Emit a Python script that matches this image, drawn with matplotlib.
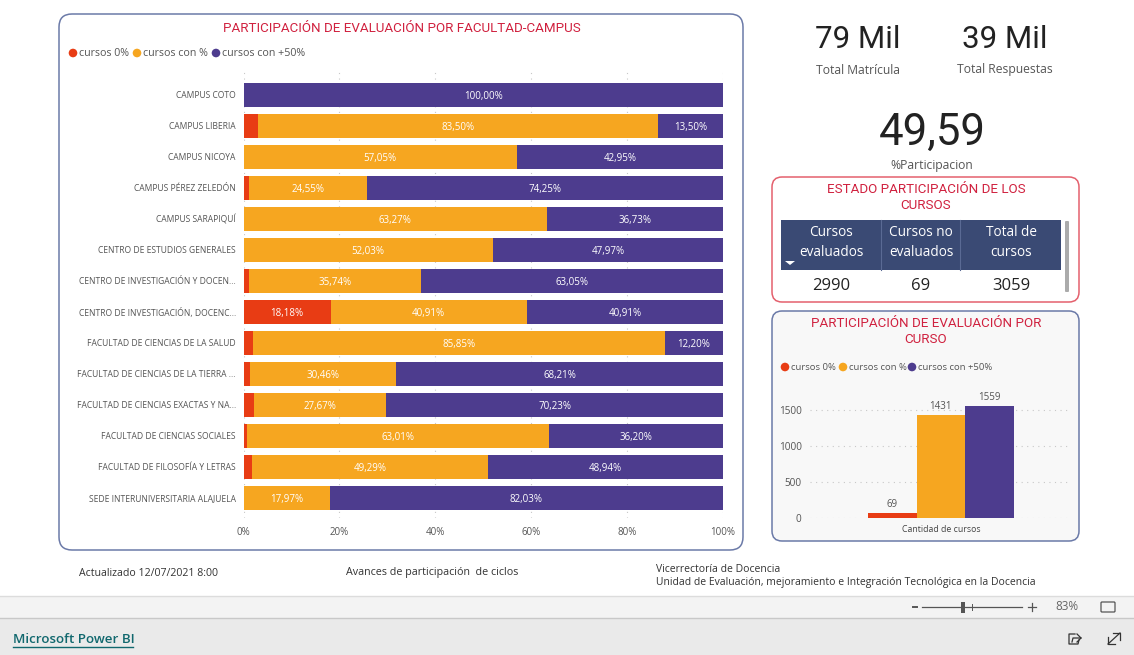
import matplotlib
matplotlib.use("Agg")
import numpy as np
import matplotlib.pyplot as plt
from matplotlib.patches import FancyBboxPatch, Rectangle, Circle, Polygon

# data
facultades = ["CAMPUS COTO", "CAMPUS LIBERIA", "CAMPUS NICOYA", "CAMPUS PÉREZ ZELEDÓN",
              "CAMPUS SARAPIQUÍ", "CENTRO DE ESTUDIOS GENERALES",
              "CENTRO DE INVESTIGACIÓN Y DOCEN...", "CENTRO DE INVESTIGACIÓN, DOCENC...",
              "FACULTAD DE CIENCIAS DE LA SALUD", "FACULTAD DE CIENCIAS DE LA TIERRA ...",
              "FACULTAD DE CIENCIAS EXACTAS Y NA...", "FACULTAD DE CIENCIAS SOCIALES",
              "FACULTAD DE FILOSOFÍA Y LETRAS", "SEDE INTERUNIVERSITARIA ALAJUELA"]
cursos_0 = [0, 3.00, 0, 1.20, 0, 0, 1.21, 18.18, 1.95, 1.33, 2.10, 0.79, 1.77, 0]
cursos_pct = [0, 83.50, 57.05, 24.55, 63.27, 52.03, 35.74, 40.91, 85.85, 30.46, 27.67, 63.01, 49.29, 17.97]
cursos_50 = [100.00, 13.50, 42.95, 74.25, 36.73, 47.97, 63.05, 40.91, 12.20, 68.21, 70.23, 36.20, 48.94, 82.03]
series_names = ["cursos 0%", "cursos con %", "cursos con +50%"]
cantidad_cursos = [69, 1431, 1559]
tabla_head = ["Cursos\nevaluados", "Cursos no\nevaluados", "Total de\ncursos"]
tabla_vals = ["2990", "69", "3059"]

ROJO = "#E83C14"
NARANJA = "#F6A620"
MORADO = "#4D3C8E"
TITULO = "#D0213F"
GRIS = "#555555"
W, H = 1134, 655

plt.rcParams["font.family"] = ["Open Sans", "DejaVu Sans"]
fig = plt.figure(figsize=(W / 100, H / 100), dpi=100, facecolor="white")

# full page axes in pixel coords for everything that is not a chart
bg = fig.add_axes([0, 0, 1, 1], zorder=0)
bg.set_xlim(0, W)
bg.set_ylim(H, 0)
bg.axis("off")

def px_axes(x0, y0, x1, y1):
    ax = fig.add_axes([x0 / W, 1 - y1 / H, (x1 - x0) / W, (y1 - y0) / H], zorder=2)
    ax.patch.set_alpha(0)
    return ax

def caja(x0, y0, x1, y1, color, face="white", r=13):
    bg.add_patch(FancyBboxPatch((x0 + r, y0 + r), x1 - x0 - 2 * r, y1 - y0 - 2 * r,
                                boxstyle="round,pad=%d,rounding_size=%d" % (r, r),
                                fc=face, ec=color, lw=1.1))

def leyenda(xs, y, size):
    for name, x, c in zip(series_names, xs, [ROJO, NARANJA, MORADO]):
        bg.add_patch(Circle((x, y), 4.3, color=c, lw=0))
        bg.text(x + 6, y, name, fontsize=size, color=GRIS, va="center", ha="left")

# boxes
caja(59, 14, 743, 550, "#6B7AA8")
caja(772, 177, 1079, 302, "#E4606D", r=10)
caja(772, 311, 1079, 541, "#6B7AA8", face="#F8F8F8", r=10)

# main chart
bg.text(402, 28, "PARTICIPACIÓN DE EVALUACIÓN POR FACULTAD-CAMPUS", fontsize=9.6,
        color=TITULO, ha="center", va="center", family="Roboto")
leyenda([73, 137, 216], 53, 7.7)

ax = px_axes(243.5, 72, 723, 518)
y = np.arange(len(facultades))
left = np.zeros(len(facultades))
for vals, c in zip([cursos_0, cursos_pct, cursos_50], [ROJO, NARANJA, MORADO]):
    vals = np.array(vals)
    ax.barh(y, vals, left=left, height=24 / 31, color=c, zorder=2)
    for i, v in enumerate(vals):
        if v >= 10:
            ax.text(left[i] + v / 2, i + 0.06, ("%.2f%%" % v).replace(".", ","), color="white",
                    fontsize=7, ha="center", va="center", zorder=3)
    left += vals
ax.set_xlim(0, 100)
# 31 px per row, first row centred at y=95
ax.set_ylim(-23 / 31 + 446 / 31, -23 / 31)
ax.set_yticks(y)
ax.set_yticklabels(facultades, fontsize=6.15, color=GRIS, va="center_baseline")
ax.set_xticks(range(0, 101, 20))
ax.set_xticklabels(["%d%%" % t for t in range(0, 101, 20)], fontsize=7, color=GRIS)
ax.tick_params(length=0)
ax.tick_params(axis="x", pad=6.5)
ax.tick_params(axis="y", pad=5.5)
ax.grid(axis="x", color="#C8C8C8", ls=(0, (1, 4)), lw=0.8, zorder=0)
for s in ax.spines.values():
    s.set_visible(False)

# KPI cards
bg.text(858, 40, "79 Mil", fontsize=22.5, color="#222222", ha="center", va="center", family="Roboto")
bg.text(858, 70, "Total Matrícula", fontsize=8.7, color=GRIS, ha="center", va="center")
bg.text(1005, 40, "39 Mil", fontsize=22.5, color="#222222", ha="center", va="center", family="Roboto")
bg.text(1005, 70, "Total Respuestas", fontsize=8.7, color=GRIS, ha="center", va="center")
bg.text(932, 133, "49,59", fontsize=31.5, color="#222222", ha="center", va="center", family="Roboto")
bg.text(932, 166, "%Participacion", fontsize=8.7, color=GRIS, ha="center", va="center")

# table
bg.text(926, 197.5, "ESTADO PARTICIPACIÓN DE LOS\nCURSOS", fontsize=9.6, color=TITULO,
        ha="center", va="center", family="Roboto", linespacing=1.3)
bg.add_patch(Rectangle((781, 220), 280, 50, color="#3A4A74", lw=0))
for x in (881, 960):
    bg.plot([x, x], [220, 270], color="#5A6A94", lw=0.8)
col_x = [831, 921, 1011]
for x, h, v in zip(col_x, tabla_head, tabla_vals):
    bg.text(x, 242.5, h, fontsize=9.8, color="white", ha="center", va="center", linespacing=1.4)
    bg.text(x, 286, v, fontsize=12, color="#222222", ha="center", va="center")
bg.add_patch(Polygon([[785, 261], [795, 261], [790, 265]], color="white", lw=0))
bg.add_patch(FancyBboxPatch((1066, 222), 2, 69, boxstyle="round,pad=1", color="#ABABAB", lw=0))

# small column chart
bg.text(926, 331.5, "PARTICIPACIÓN DE EVALUACIÓN POR\nCURSO", fontsize=9.6, color=TITULO,
        ha="center", va="center", family="Roboto", linespacing=1.3)
leyenda([785, 843, 912], 367, 6.8)

ax2 = px_axes(810, 385, 1070, 517.7)
xpos = np.arange(3)
ax2.bar(xpos, cantidad_cursos, width=1, color=[ROJO, NARANJA, MORADO], zorder=2)
for i, v in enumerate(cantidad_cursos):
    ax2.text(i, v + 45, str(v), fontsize=7, color=GRIS, ha="center", va="bottom")
# 48.6 px per category, first bar centred at 892
ax2.set_xlim(-1 / 2 - 58 / 48.6, -1 / 2 + 202 / 48.6)
ax2.set_ylim(0, 1500 * (517.7 - 385) / (517.7 - 410.3))
ax2.set_yticks([0, 500, 1000, 1500])
ax2.set_yticklabels(["0", "500", "1000", "1500"], fontsize=7.2, color=GRIS)
ax2.set_xticks([1])
ax2.set_xticklabels(["Cantidad de cursos"], fontsize=6.3, color="#444444")
ax2.tick_params(length=0, pad=6)
ax2.tick_params(axis="x", pad=5.5)
ax2.grid(axis="y", color="#C8C8C8", ls=(0, (1, 4)), lw=0.8, zorder=0)
for s in ax2.spines.values():
    s.set_visible(False)

# footer notes
bg.text(79, 573, "Actualizado 12/07/2021 8:00", fontsize=7.6, color="#333333", va="center")
bg.text(346, 572, "Avances de participación  de ciclos", fontsize=7.75, color="#333333", va="center")
bg.text(656, 569, "Vicerrectoría de Docencia", fontsize=7.5, color="#333333", va="center")
bg.text(656, 583, "Unidad de Evaluación, mejoramiento e Integración Tecnológica en la Docencia",
        fontsize=7.5, color="#333333", va="center")

# viewer chrome
bg.add_patch(Rectangle((0, 596), W, 22, color="#F3F3F3", lw=0))
bg.add_patch(Rectangle((0, 618), W, 37, color="#EAEAEA", lw=0))
bg.plot([0, W], [595.5, 595.5], color="#DCDCDC", lw=1)
bg.plot([0, W], [618, 618], color="#C8C8C8", lw=1)
bg.plot([913, 917], [607, 607], color="#555555", lw=1.4)
bg.plot([922, 1022], [607, 607], color="#555555", lw=0.9)
bg.plot([972, 972], [604, 610], color="#555555", lw=0.7)
bg.add_patch(Rectangle((961, 602), 4, 11, color="#555555", lw=0))
bg.plot([1028, 1036], [607, 607], color="#555555", lw=0.9)
bg.plot([1032, 1032], [603, 611], color="#555555", lw=0.9)
bg.text(1067, 606.5, "83%", fontsize=8.5, color="#666666", ha="center", va="center")
bg.add_patch(FancyBboxPatch((1102, 603), 12, 8, boxstyle="round,pad=1", fc="none", ec="#555555", lw=0.9))
bg.text(13, 639.5, "Microsoft Power BI", fontsize=9.6, color="#11686E", va="center", fontweight="semibold")
bg.plot([13, 133], [646.5, 646.5], color="#11686E", lw=1)
# share icon
bg.plot([1075, 1069, 1069, 1078, 1079], [634, 634, 644, 644, 640], color="#333333", lw=0.9)
bg.plot([1072, 1073, 1081], [642, 638, 638], color="#333333", lw=0.9)
bg.plot([1077, 1081, 1077], [634, 638, 642], color="#333333", lw=0.9)
# expand icon
bg.plot([1108, 1120], [644, 633], color="#333333", lw=0.9)
bg.plot([1113, 1120, 1120], [633, 633, 640], color="#333333", lw=0.9)
bg.plot([1108, 1108, 1115], [637, 644, 644], color="#333333", lw=0.9)

fig.savefig("out.png", dpi=100)
